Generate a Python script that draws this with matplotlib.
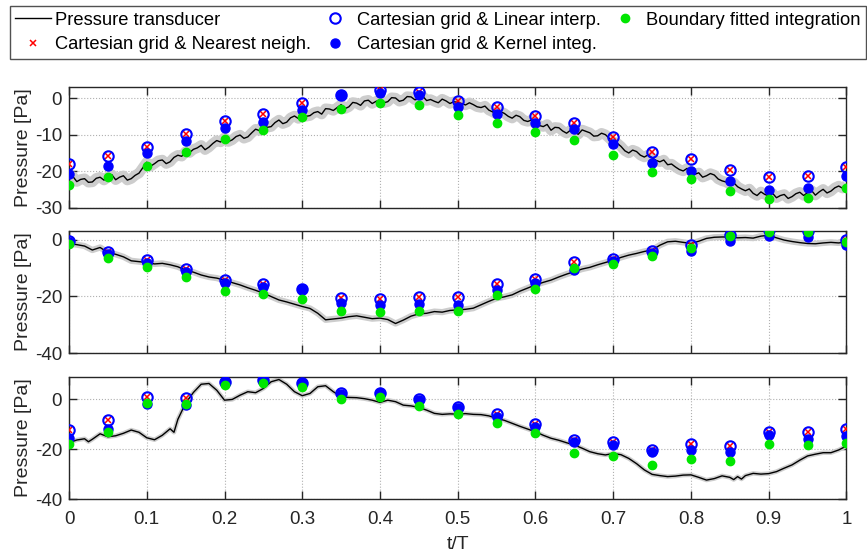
import matplotlib
matplotlib.use('Agg')
import matplotlib.pyplot as plt
import numpy as np

plt.rcParams['font.family'] = ['Liberation Sans', 'DejaVu Sans']
plt.rcParams['axes.unicode_minus'] = False

# phase positions of the PIV snapshots
t_snap = [0.00, 0.05, 0.10, 0.15, 0.20, 0.25, 0.30, 0.35, 0.40, 0.45, 0.50,
          0.55, 0.60, 0.65, 0.70, 0.75, 0.80, 0.85, 0.90, 0.95, 1.00]

# ---- tap 1 (transducer sampled every 0.005 T) ----
t1 = np.arange(0, 201) / 200
p1 = [-22.1, -21.4, -22.8, -22.2, -22.0, -23.0, -22.9, -21.9, -21.6, -22.4,
      -21.5, -20.9, -22.3, -21.6, -21.2, -22.4, -22.0, -21.1, -20.5, -19.0,
      -17.5, -18.6, -17.9, -17.1, -16.9, -17.9, -17.4, -16.2, -15.6, -15.9,
      -14.6, -14.9, -14.0, -13.6, -12.9, -14.1, -13.4, -12.4, -11.6, -12.0,
      -10.8, -11.9, -11.4, -10.5, -10.1, -11.0, -10.6, -9.5, -8.5, -8.9,
      -7.2, -8.0, -7.8, -6.7, -6.0, -7.0, -6.6, -5.4, -4.9, -5.6,
      -4.1, -5.0, -4.8, -4.0, -3.7, -4.4, -2.9, -3.0, -3.4, -2.6,
      -1.8, -2.9, -2.4, -1.2, -1.4, -2.0, -0.8, -0.6, -1.5, -0.9,
      -0.5, -1.3, -1.0, 0.1, 0.0, -0.9, -0.6, 0.4, 0.3, -0.5,
      -0.2, 0.5, -0.7, -0.4, -0.9, -1.3, -0.3, -0.8, -1.5, -1.0,
      -1.2, -1.5, -1.9, -1.3, -1.8, -2.4, -2.6, -2.2, -3.3, -3.8,
      -4.4, -3.7, -4.2, -5.0, -5.5, -4.7, -5.1, -6.1, -6.4, -6.0,
      -7.1, -7.5, -7.8, -7.2, -8.8, -8.0, -8.1, -9.0, -9.6, -8.8,
      -9.2, -9.9, -8.7, -9.1, -9.5, -10.4, -10.3, -9.6, -10.0, -11.0,
      -12.0, -12.3, -13.2, -14.4, -15.0, -14.2, -14.6, -15.6, -16.1, -15.5,
      -16.3, -17.0, -17.4, -16.9, -18.2, -18.0, -18.8, -19.5, -19.9, -19.2,
      -20.0, -20.8, -20.4, -21.6, -21.2, -20.6, -21.0, -22.1, -22.6, -22.9,
      -23.5, -23.1, -24.2, -24.8, -25.3, -24.8, -26.0, -26.6, -25.6, -26.3,
      -26.7, -26.0, -27.2, -26.6, -26.3, -27.4, -26.9, -26.1, -25.7, -26.6,
      -25.8, -25.2, -26.5, -25.6, -24.9, -25.9, -25.4, -24.5, -24.0, -24.6,
      -23.7]
near1 = [-18.0, -15.9, -13.3, -9.8, -6.4, -4.4, -1.3, 0.9, 2.3, 1.7, -0.7,
         -2.5, -4.8, -6.7, -10.5, -14.7, -16.5, -19.5, -21.6, -21.3, -18.7]
lin1 = [-18.0, -15.9, -13.3, -9.8, -6.4, -4.4, -1.3, 0.9, 2.3, 1.7, -0.7,
        -2.5, -4.8, -6.7, -10.5, -14.7, -16.5, -19.5, -21.6, -21.3, -18.7]
ker1 = [-20.6, -18.5, -15.1, -11.6, -8.1, -6.5, -3.2, 0.9, 1.4, 0.9, -2.5,
        -4.4, -6.9, -8.5, -12.6, -17.7, -19.8, -22.5, -25.1, -24.6, -21.3]
bfi1 = [-23.8, -21.6, -18.5, -14.7, -11.1, -8.8, -5.3, -2.9, -1.4, -2.0, -4.6,
        -6.7, -9.3, -11.5, -15.6, -20.1, -22.2, -25.3, -27.6, -27.3, -24.6]

# ---- tap 2 ----
t2 = np.arange(0, 101) / 100
p2 = [-1.4, -1.8, -2.3, -3.7, -2.8, -4.6, -5.2, -6.1, -7.5, -7.8,
      -8.1, -8.6, -8.4, -8.9, -9.6, -10.8, -11.5, -12.5, -13.2, -13.6,
      -14.3, -15.2, -16.0, -17.0, -17.9, -18.9, -20.1, -21.3, -22.0, -22.8,
      -23.6, -24.3, -26.0, -28.3, -28.0, -27.7, -27.2, -26.9, -27.4, -27.9,
      -27.7, -28.2, -29.6, -28.4, -27.0, -26.2, -26.0, -25.4, -25.6, -25.0,
      -24.8, -24.6, -24.2, -23.0, -21.8, -20.7, -20.2, -19.5, -18.2, -17.1,
      -16.0, -15.1, -14.3, -13.2, -12.2, -11.3, -10.4, -9.8, -8.9, -8.1,
      -7.3, -6.3, -5.5, -4.9, -4.2, -3.7, -2.0, -0.8, -0.6, -1.0,
      -1.4, -0.6, 0.4, 0.8, 0.9, 0.9, 0.6, 0.7, 0.5, 1.2,
      1.5, 0.6, -0.2, -0.7, -1.1, -1.4, -1.5, -1.2, -1.0, -1.2,
      -0.8]
near2 = [-0.6, -4.3, -7.3, -10.4, -14.3, -15.7, -17.3, -20.6, -20.9, -20.2, -20.4,
         -15.7, -13.8, -7.8, -6.7, -4.1, -1.8, 1.5, 3.3, 3.0, -0.2]
lin2 = [-0.6, -4.3, -7.3, -10.4, -14.3, -15.7, -17.3, -20.6, -20.9, -20.2, -20.4,
        -15.7, -13.8, -7.8, -6.7, -4.1, -1.8, 1.5, 3.3, 3.0, -0.2]
ker2 = [-1.0, -5.0, -8.1, -11.5, -15.4, -16.8, -17.3, -22.2, -23.0, -22.7, -23.0,
        -17.8, -15.2, -10.8, -7.5, -4.7, -4.1, -0.6, 1.3, 0.9, -2.0]
bfi2 = [-1.6, -6.4, -9.6, -13.3, -18.0, -19.2, -21.1, -25.1, -25.5, -25.1, -25.3,
        -19.5, -17.3, -10.2, -8.8, -5.7, -2.9, 1.3, 2.8, 2.7, -0.9]

# ---- tap 3 ----
t3 = [0.00, 0.01, 0.02, 0.025, 0.03, 0.04, 0.05, 0.06, 0.07, 0.08, 0.09,
      0.10, 0.11, 0.12, 0.13, 0.135, 0.14, 0.15, 0.16, 0.17, 0.18, 0.19,
      0.20, 0.21, 0.22, 0.23, 0.24, 0.25, 0.26, 0.27, 0.28, 0.29,
      0.30, 0.31, 0.32, 0.33, 0.34, 0.35, 0.36, 0.37, 0.38, 0.39,
      0.40, 0.41, 0.42, 0.43, 0.44, 0.45, 0.46, 0.47, 0.48, 0.49,
      0.50, 0.51, 0.52, 0.53, 0.54, 0.55, 0.56, 0.57, 0.58, 0.59,
      0.60, 0.61, 0.62, 0.63, 0.64, 0.65, 0.66, 0.67, 0.68, 0.69,
      0.70, 0.71, 0.72, 0.73, 0.74, 0.75, 0.76, 0.77, 0.78, 0.79,
      0.80, 0.81, 0.82, 0.83, 0.84, 0.85, 0.855, 0.86, 0.865, 0.87, 0.88, 0.89,
      0.90, 0.91, 0.92, 0.93, 0.94, 0.95, 0.96, 0.97, 0.98, 0.99, 1.00]
p3 = [-17.4, -16.3, -15.8, -17.0, -16.0, -13.8, -15.0, -14.6, -13.6, -12.3, -13.2,
      -15.4, -16.2, -14.4, -11.8, -13.2, -8.0, -1.5, 2.8, 6.1, 6.4, 3.7,
      -0.3, 0.0, 1.7, 3.1, 2.7, 4.4, 7.1, 8.0, 6.1, 3.1,
      1.5, 2.4, 5.1, 5.5, 3.1, 1.1, 0.8, 0.7, 0.3, -0.3,
      -1.2, -0.3, -0.9, -2.3, -2.6, -3.2, -4.3, -5.6, -6.0, -5.8,
      -5.9, -5.7, -6.0, -6.1, -6.6, -7.6, -8.4, -9.6, -10.8, -11.9,
      -13.0, -14.4, -15.6, -16.4, -17.4, -18.3, -19.6, -21.0, -21.8, -22.3,
      -21.7, -22.2, -23.7, -25.8, -28.3, -30.1, -30.6, -31.0, -30.8, -30.4,
      -30.3, -31.3, -32.4, -31.8, -30.7, -31.3, -32.2, -31.0, -32.0, -30.6, -29.7, -30.0,
      -29.8, -29.0, -27.6, -26.3, -24.4, -22.7, -22.0, -21.4, -21.4, -20.3, -18.7]
near3 = [-12.4, -8.3, 0.8, 0.7, 7.0, 8.0, 6.7, 2.4, 2.7, 0.0, -3.2,
         -6.0, -9.9, -16.3, -17.0, -20.3, -18.0, -18.7, -13.0, -13.2, -11.9]
lin3 = [-12.4, -8.3, 0.8, 0.7, 7.0, 8.0, 6.7, 2.4, 2.7, 0.0, -3.2,
        -6.0, -9.9, -16.3, -17.0, -20.3, -18.0, -18.7, -13.0, -13.2, -11.9]
ker3 = [-15.6, -12.0, -1.9, -2.3, 7.0, 8.0, 6.7, 2.1, 2.4, -0.3, -3.6,
        -7.0, -11.0, -17.0, -18.3, -21.0, -20.3, -21.0, -14.4, -16.0, -14.7]
bfi3 = [-18.0, -13.1, -1.6, -1.7, 5.7, 6.7, 4.8, 0.0, 0.8, -2.7, -5.9,
        -9.6, -13.6, -21.7, -22.7, -26.3, -24.1, -24.7, -17.9, -18.3, -17.4]

panels = [
    (t1, p1, near1, lin1, ker1, bfi1, (-30, 3), [-30, -20, -10, 0], 7.5),
    (t2, p2, near2, lin2, ker2, bfi2, (-40, 3), [-40, -20, 0], 4.5),
    (t3, p3, near3, lin3, ker3, bfi3, (-40, 9), [-40, -20, 0], 3.2),
]

fig = plt.figure(figsize=(8.67, 5.56), dpi=100)
bottoms = [0.6259, 0.3651, 0.1025]
heights = [0.2176, 0.2194, 0.2194]

frame = '#262626'
handles = None
for i, (t, p, near, lin, ker, bfi, ylim, yticks, band) in enumerate(panels):
    ax = fig.add_axes([0.0796, bottoms[i], 0.8967, heights[i]])
    ax.plot(t, p, color='#cdcdcd', lw=band, solid_capstyle='butt', zorder=2)
    h_line, = ax.plot(t, p, color='black', lw=1.0, zorder=3)
    h_near, = ax.plot(t_snap, near, 'x', color='red', ms=4, mew=1.1,
                      linestyle='none', zorder=4)
    h_lin, = ax.plot(t_snap, lin, 'o', mfc='none', mec='blue', ms=7.5, mew=1.5,
                     linestyle='none', zorder=4)
    h_ker, = ax.plot(t_snap, ker, 'o', color='blue', ms=6.5,
                     linestyle='none', zorder=5)
    h_bfi, = ax.plot(t_snap, bfi, 'o', color='#00e600', ms=6,
                     linestyle='none', zorder=6)
    if handles is None:
        handles = [h_line, h_near, h_lin, h_ker, h_bfi]

    ax.set_xlim(0, 1)
    ax.set_ylim(*ylim)
    ax.set_xticks(np.arange(0, 1.01, 0.1))
    ax.set_yticks(yticks)
    ax.grid(True, linestyle=':', color='#b0b0b0', linewidth=0.8)
    ax.tick_params(direction='in', length=6, width=1, top=True, right=True,
                   labelsize=13.5, colors=frame, labelcolor=frame)
    ax.tick_params(axis='x', pad=8.5)
    ax.tick_params(axis='y', pad=5)
    for s in ax.spines.values():
        s.set_color(frame)
        s.set_linewidth(1.0)
    ax.set_ylabel('Pressure [Pa]', fontsize=14, color=frame, labelpad=2)
    if i < 2:
        ax.tick_params(labelbottom=False)
    else:
        ax.set_xticklabels(['0', '0.1', '0.2', '0.3', '0.4', '0.5',
                            '0.6', '0.7', '0.8', '0.9', '1'])
        ax.set_xlabel('t/T', fontsize=14, color=frame, labelpad=6)

labels = ['Pressure transducer', 'Cartesian grid & Nearest neigh.',
          'Cartesian grid & Linear interp.', 'Cartesian grid & Kernel integ.',
          'Boundary fitted integration']
leg = fig.legend(handles, labels, ncol=3, loc='upper left',
                 bbox_to_anchor=(0.0115, 0.989), frameon=True, fancybox=False,
                 edgecolor=frame, fontsize=13.2, handlelength=1.95,
                 handletextpad=0.2, columnspacing=0.35, borderpad=0.3,
                 labelspacing=0.42, borderaxespad=0)
leg.get_frame().set_linewidth(1.0)

fig.savefig('out.png', dpi=100)
